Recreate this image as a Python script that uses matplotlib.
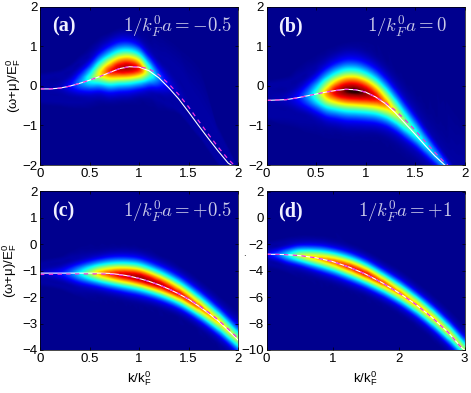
import numpy as np
import matplotlib
matplotlib.use("Agg")
import matplotlib.pyplot as plt
import matplotlib.tri as mtri
from matplotlib.colors import LinearSegmentedColormap

plt.rcParams["font.family"] = ["Liberation Sans", "DejaVu Sans"]
plt.rcParams["mathtext.fontset"] = "cm"

# heat map ridge: k, centre, peak level, reach above/below, faint halo above/below
k_a = [0, 0.2, 0.3, 0.4, 0.5, 0.6, 0.7, 0.8, 0.9, 1.0, 1.1, 1.2, 1.3, 1.4, 1.6, 1.8, 2.0]
ridge_a = [-0.08, -0.05, 0.0, 0.08, 0.18, 0.3, 0.36, 0.42, 0.44, 0.42, 0.33, 0.18, 0.02, -0.2, -0.9, -1.6, -2.4]
peak_a = [0.02, 0.05, 0.12, 0.25, 0.42, 0.62, 0.8, 0.9, 0.92, 0.82, 0.5, 0.24, 0.1, 0.05, 0.03, 0.02, 0.01]
up_a = [0.3, 0.35, 0.42, 0.55, 0.65, 0.78, 0.88, 0.92, 0.9, 0.82, 0.68, 0.6, 0.6, 0.6, 0.5, 0.4, 0.3]
dn_a = [0.3, 0.35, 0.42, 0.5, 0.58, 0.66, 0.75, 0.78, 0.78, 0.72, 0.62, 0.55, 0.5, 0.42, 0.3, 0.3, 0.3]
halo_up_a = [0.35, 0.45, 0.55, 0.7, 0.85, 0.95, 1.0, 1.05, 1.1, 1.1, 1.15, 1.2, 1.2, 1.25, 1.5, 0.6, 0.4]
halo_dn_a = [0.4, 0.5, 0.6, 0.7, 0.8, 0.85, 0.9, 0.95, 0.95, 0.95, 0.9, 0.85, 0.7, 0.5, 0.4, 0.4, 0.4]

k_b = [0, 0.2, 0.3, 0.4, 0.5, 0.6, 0.7, 0.8, 0.9, 1.0, 1.1, 1.2, 1.3, 1.4, 1.5, 1.6, 1.7, 1.8, 1.9, 2.0]
ridge_b = [-0.37, -0.35, -0.32, -0.28, -0.24, -0.2, -0.16, -0.14, -0.15, -0.2, -0.3, -0.46, -0.68, -0.94, -1.2, -1.48, -1.76, -2.05, -2.35, -2.65]
peak_b = [0.03, 0.06, 0.12, 0.25, 0.45, 0.7, 0.88, 0.98, 1.0, 0.95, 0.85, 0.72, 0.6, 0.5, 0.42, 0.36, 0.3, 0.26, 0.2, 0.15]
up_b = [0.4, 0.45, 0.52, 0.65, 0.78, 0.92, 1.0, 1.05, 1.05, 1.02, 0.98, 0.92, 0.85, 0.78, 0.7, 0.6, 0.52, 0.45, 0.4, 0.4]
dn_b = [0.4, 0.45, 0.52, 0.6, 0.72, 0.85, 0.92, 0.98, 0.98, 0.95, 0.88, 0.8, 0.72, 0.65, 0.58, 0.52, 0.46, 0.4, 0.4, 0.4]
halo_up_b = [0.45, 0.6, 0.8, 0.95, 1.05, 1.15, 1.2, 1.25, 1.3, 1.35, 1.45, 1.6, 1.8, 1.95, 1.9, 1.95, 2.05, 1.95, 1.85, 1.75]
halo_dn_b = [0.5, 0.7, 0.8, 0.95, 1.05, 1.2, 1.25, 1.3, 1.3, 1.25, 1.2, 1.15, 1.05, 0.95, 0.8, 0.65, 0.55, 0.5, 0.5, 0.5]

k_c = [0, 0.2, 0.3, 0.4, 0.5, 0.6, 0.7, 0.8, 0.9, 1.0, 1.2, 1.4, 1.6, 1.8, 2.0]
ridge_c = [-1.1, -1.1, -1.1, -1.1, -1.1, -1.11, -1.13, -1.16, -1.2, -1.27, -1.52, -1.87, -2.35, -2.92, -3.6]
peak_c = [0.05, 0.13, 0.22, 0.36, 0.52, 0.68, 0.78, 0.86, 0.9, 0.93, 0.9, 0.83, 0.74, 0.64, 0.54]
up_c = [0.35, 0.48, 0.6, 0.68, 0.75, 0.82, 0.9, 0.95, 0.98, 1.0, 0.98, 0.95, 0.9, 0.85, 0.85]
dn_c = [0.35, 0.48, 0.6, 0.68, 0.72, 0.76, 0.82, 0.86, 0.9, 0.9, 0.85, 0.8, 0.78, 0.78, 0.78]
halo_up_c = [0.4, 0.65, 0.85, 1.05, 1.2, 1.3, 1.4, 1.5, 1.6, 1.7, 1.9, 2.3, 2.9, 3.6, 4.3]
halo_dn_c = [0.45, 0.65, 0.8, 0.95, 1.1, 1.2, 1.25, 1.3, 1.3, 1.3, 1.25, 1.2, 1.1, 1.05, 1.0]

k_d = [0, 0.15, 0.3, 0.5, 0.8, 1.0, 1.25, 1.5, 1.75, 2.0, 2.25, 2.5, 2.75, 3.0]
ridge_d = [-2.8, -2.8, -2.83, -2.88, -3.1, -3.32, -3.72, -4.25, -4.9, -5.65, -6.5, -7.5, -8.65, -9.95]
peak_d = [0.1, 0.2, 0.35, 0.55, 0.68, 0.74, 0.8, 0.82, 0.76, 0.7, 0.66, 0.63, 0.58, 0.52]
up_d = [0.7, 0.85, 1.05, 1.25, 1.45, 1.5, 1.55, 1.55, 1.5, 1.5, 1.45, 1.45, 1.45, 1.45]
dn_d = [0.7, 0.85, 1.05, 1.2, 1.45, 1.55, 1.6, 1.55, 1.5, 1.45, 1.45, 1.45, 1.45, 1.45]
halo_up_d = [0.8, 0.95, 1.15, 1.35, 1.65, 2.4, 3.0, 3.5, 3.9, 4.7, 5.6, 6.6, 7.6, 8.8]
halo_dn_d = [0.8, 1.0, 1.4, 1.8, 2.3, 2.5, 2.5, 2.3, 2.0, 1.8, 1.65, 1.55, 1.5, 1.5]

# dispersion curves: white solid, magenta dashed
kw_a = [0, 0.1, 0.2, 0.3, 0.4, 0.5, 0.6, 0.7, 0.8, 0.9, 1.0, 1.1, 1.2, 1.3, 1.4, 1.5, 1.6, 1.7, 1.8, 1.9, 1.93]
white_a = [-0.08, -0.08, -0.06, -0.01, 0.06, 0.14, 0.23, 0.33, 0.43, 0.48, 0.47, 0.38, 0.2, -0.05, -0.33, -0.66, -1.0, -1.33, -1.65, -1.95, -2.0]
km_a = [0, 0.1, 0.2, 0.3, 0.4, 0.5, 0.6, 0.7, 0.8, 0.9, 1.0, 1.1, 1.2, 1.3, 1.4, 1.5, 1.6, 1.7, 1.8, 1.9, 1.96]
mag_a = [-0.08, -0.08, -0.06, -0.01, 0.06, 0.14, 0.23, 0.33, 0.43, 0.48, 0.48, 0.43, 0.28, 0.05, -0.22, -0.53, -0.88, -1.22, -1.55, -1.85, -2.0]

kw_b = [0, 0.1, 0.2, 0.3, 0.4, 0.5, 0.6, 0.7, 0.8, 0.9, 1.0, 1.1, 1.2, 1.3, 1.4, 1.5, 1.6, 1.7, 1.8]
white_b = [-0.37, -0.36, -0.35, -0.31, -0.26, -0.21, -0.16, -0.12, -0.09, -0.1, -0.16, -0.28, -0.45, -0.68, -0.95, -1.22, -1.5, -1.77, -2.0]
km_b = [0, 0.1, 0.2, 0.3, 0.4, 0.5, 0.6, 0.7, 0.8, 0.9, 1.0, 1.1, 1.2, 1.3, 1.4, 1.5, 1.6, 1.7, 1.8, 1.83]
mag_b = [-0.37, -0.36, -0.35, -0.31, -0.26, -0.21, -0.16, -0.12, -0.09, -0.1, -0.16, -0.28, -0.42, -0.62, -0.86, -1.12, -1.4, -1.68, -1.94, -2.0]

kw_c = [0, 0.2, 0.4, 0.6, 0.7, 0.8, 0.9, 1.0, 1.1, 1.2, 1.3, 1.4, 1.5, 1.6, 1.7, 1.8, 1.9, 2.0]
white_c = [-1.09, -1.09, -1.09, -1.09, -1.1, -1.14, -1.2, -1.29, -1.4, -1.53, -1.69, -1.87, -2.08, -2.33, -2.6, -2.9, -3.25, -3.62]
km_c = kw_c
mag_c = [-1.14, -1.13, -1.12, -1.12, -1.13, -1.16, -1.21, -1.29, -1.4, -1.53, -1.68, -1.86, -2.06, -2.3, -2.57, -2.86, -3.2, -3.56]

kw_d = [0, 0.25, 0.5, 0.75, 1.0, 1.25, 1.5, 1.75, 2.0, 2.25, 2.5, 2.75, 2.95, 3.0]
white_d = [-2.75, -2.77, -2.85, -3.02, -3.3, -3.72, -4.25, -4.9, -5.65, -6.5, -7.5, -8.65, -9.8, -10.0]
km_d = kw_d
mag_d = white_d

# level at each step from the ridge out to the reach
profile_offset = [-1, -0.75, -0.5, -0.25, 0, 0.25, 0.5, 0.75, 1]
profile_level = [0.03, 0.14, 0.4, 0.76, 1, 0.76, 0.4, 0.14, 0.03]
halo_level = 0.025

cmap = LinearSegmentedColormap.from_list("spec", [
    (0.0, (0, 0, 0.56)), (0.12, (0, 0, 1)), (0.37, (0, 1, 1)), (0.62, (1, 1, 0)),
    (0.84, (1, 0, 0)), (0.96, (0.55, 0, 0)), (1.0, (0.15, 0, 0))])


def heat(ax, k, ridge, peak, up, dn, halo_up, halo_dn, xlim, ylim):
    k = np.array(k)
    ridge = np.array(ridge)
    peak = np.array(peak)
    up = np.array(up)
    dn = np.array(dn)
    rows_y = [ridge - np.maximum(np.array(halo_dn), dn + 0.03 * (ylim[1] - ylim[0]))]
    rows_c = [0 * peak]
    for off, lev in zip(profile_offset, profile_level):
        reach = up if off > 0 else dn
        rows_y.append(ridge + off * reach)
        rows_c.append(np.maximum(peak * lev, halo_level))
    rows_y.append(ridge + np.maximum(np.array(halo_up), up + 0.03 * (ylim[1] - ylim[0])))
    rows_c.append(0 * peak)
    Y = np.array(rows_y)
    X = np.tile(k, (Y.shape[0], 1))
    C = np.array(rows_c)
    # quad mesh split into triangles, smoothed by matplotlib's cubic interpolator
    nr, nc = Y.shape
    tris = []
    for i in range(nr - 1):
        for j in range(nc - 1):
            a = i * nc + j
            tris.append([a, a + 1, a + nc])
            tris.append([a + 1, a + nc + 1, a + nc])
    tri = mtri.Triangulation(X.ravel(), Y.ravel(), tris)
    interp = mtri.CubicTriInterpolator(tri, C.ravel(), kind="geom")
    gx, gy = np.meshgrid(np.linspace(xlim[0], xlim[1], 400), np.linspace(ylim[0], ylim[1], 320))
    Z = np.ma.filled(interp(gx, gy), 0.0)
    ax.imshow(np.clip(Z, 0, 1), origin="lower", extent=[xlim[0], xlim[1], ylim[0], ylim[1]], aspect="auto",
              cmap=cmap, vmin=0, vmax=1, interpolation="bilinear")


def panel(pos, k, ridge, peak, up, dn, hu, hd, kw, white, km, mag, xlim, ylim, xt, yt, tag, label):
    ax = fig.add_axes(pos)
    heat(ax, k, ridge, peak, up, dn, hu, hd, xlim, ylim)
    ax.plot(kw, white, color="white", lw=0.8)
    ax.plot(km, mag, color="#f030e0", lw=0.9, dashes=(3.5, 3.5))
    ax.set_xlim(xlim)
    ax.set_ylim(ylim)
    ax.set_xticks(xt)
    ax.set_xticklabels([("%g" % t) for t in xt])
    ax.set_yticks(yt)
    ax.set_yticklabels([("%g" % t).replace("-", "\u2212") for t in yt])
    ax.tick_params(direction="in", top=True, right=True, length=2.5, width=0.5, labelsize=9.5, pad=2)
    for s in ax.spines.values():
        s.set_linewidth(0.5)
    ax.text(0.06, 0.875, tag, transform=ax.transAxes, color="#f0f0ff", fontsize=14.5, fontweight="bold",
            family="Liberation Serif", va="center")
    ax.text(0.97, 0.875, label, transform=ax.transAxes, color="#c8c8e8", fontsize=13.5, ha="right", va="center")
    return ax


fig = plt.figure(figsize=(4.71, 3.93), dpi=100)
W, H = 471.0, 393.0
x1, x2, wd = 40 / W, 266.5 / W, 198 / W
y1, y2, ht = (393 - 165) / H, (393 - 350) / H, 158.5 / H
ylab = r"($\mathregular{\omega}$+$\mathregular{\mu}$)/E$\mathregular{_F^0}$"
xlab = r"k/k$\mathregular{_F^0}$"

ax = panel([x1, y1, wd, ht], k_a, ridge_a, peak_a, up_a, dn_a, halo_up_a, halo_dn_a, kw_a, white_a, km_a, mag_a,
           (0, 2), (-2, 2), [0, 0.5, 1, 1.5, 2], [-2, -1, 0, 1, 2], "(a)", r"$1/k_F^0a=-0.5$")
ax.set_ylabel(ylab, fontsize=9.5)
ax.yaxis.set_label_coords(-0.085, 0.5)
panel([x2, y1, wd, ht], k_b, ridge_b, peak_b, up_b, dn_b, halo_up_b, halo_dn_b, kw_b, white_b, km_b, mag_b,
      (0, 2), (-2, 2), [0, 0.5, 1, 1.5, 2], [-2, -1, 0, 1, 2], "(b)", r"$1/k_F^0a=0$   ")
ax = panel([x1, y2, wd, ht], k_c, ridge_c, peak_c, up_c, dn_c, halo_up_c, halo_dn_c, kw_c, white_c, km_c, mag_c,
           (0, 2), (-4, 2), [0, 0.5, 1, 1.5, 2], [-4, -3, -2, -1, 0, 1, 2], "(c)", r"$1/k_F^0a=+0.5$")
ax.set_ylabel(ylab, fontsize=9.5)
ax.yaxis.set_label_coords(-0.105, 0.5)
ax.set_xlabel(xlab, fontsize=9.5, labelpad=3)
ax = panel([x2, y2, wd, ht], k_d, ridge_d, peak_d, up_d, dn_d, halo_up_d, halo_dn_d, kw_d, white_d, km_d, mag_d,
           (0, 3), (-10, 2), [0, 1, 2, 3], [-10, -8, -6, -4, -2, 0, 2], "(d)", r"$1/k_F^0a=+1$  ")
ax.set_xlabel(xlab, fontsize=9.5, labelpad=3)
fig.text(243 / W, 1 - 256 / H, ".", fontsize=7, color="black")

fig.savefig("out.png", dpi=100)
